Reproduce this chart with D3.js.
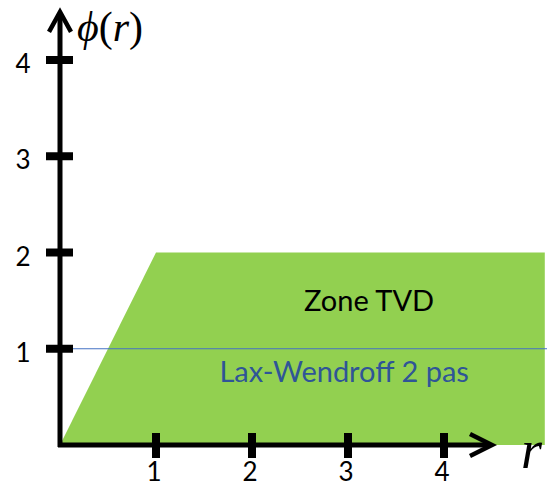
<!DOCTYPE html>
<html>
<head>
<meta charset="utf-8">
<script src="https://cdn.jsdelivr.net/npm/d3@7"></script>
<style>
  body { margin: 0; background: #fff; }
</style>
</head>
<body>
<div id="chart"></div>
<script>
// ticks on both axes
const rTicks = [1, 2, 3, 4];
const phiTicks = [1, 2, 3, 4];
const axisMax = 4.5;

// TVD zone polygon (r, phi)
const tvdR = [0, 1, 5.05, 5.05];
const tvdPhi = [0, 2, 2, 0];

// Lax-Wendroff limiter: phi = 1
const lwR = [0, 5.1];
const lwPhi = [1, 1];

// text annotations inside the zone
const noteText = ["Zone TVD", "Lax-Wendroff 2 pas"];
const noteR = [3.22, 2.96];
const notePhi = [1.5, 0.76];

const width = 547, height = 489;

const x = d3.scaleLinear([0, 4], [60, 444]);
const y = d3.scaleLinear([0, 4], [445, 60]);

const svg = d3.select("#chart")
  .append("svg")
    .attr("width", width)
    .attr("height", height)
    .attr("viewBox", [0, 0, width, height]);

// green TVD zone
svg.append("path")
    .attr("fill", "#92d050")
    .attr("d", d3.line()(tvdR.map((r, i) => [x(r), y(tvdPhi[i])])) + "Z");

// phi = 1 line
svg.append("path")
    .attr("fill", "none")
    .attr("stroke", "#4472c4")
    .attr("stroke-width", 1.2)
    .attr("d", d3.line()(lwR.map((r, i) => [x(r), y(lwPhi[i])])));

// annotations
svg.append("g")
    .attr("font-family", "Lato, 'Open Sans', sans-serif")
    .attr("font-size", 29)
    .attr("text-anchor", "middle")
  .selectAll("text")
  .data(noteText)
  .join("text")
    .attr("x", (d, i) => x(noteR[i]))
    .attr("y", (d, i) => y(notePhi[i]))
    .attr("dy", "0.35em")
    .attr("fill", (d, i) => i === 0 ? "#000" : "#2f5597")
    .text(d => d);

// axes
const axes = svg.append("g")
    .attr("stroke", "#000")
    .attr("fill", "none")
    .attr("stroke-width", 5);

axes.append("line")
    .attr("x1", x(0) - 2).attr("x2", x(axisMax) - 2)
    .attr("y1", y(0)).attr("y2", y(0));
axes.append("line")
    .attr("x1", x(0)).attr("x2", x(0))
    .attr("y1", y(0) + 2).attr("y2", y(axisMax) + 2);

// arrow heads
axes.append("path")
    .attr("stroke-width", 4.5)
    .attr("stroke-linejoin", "miter")
    .attr("d", `M${x(axisMax) - 22},${y(0) - 11}L${x(axisMax)},${y(0)}L${x(axisMax) - 22},${y(0) + 11}`);
axes.append("path")
    .attr("stroke-width", 4.5)
    .attr("stroke-linejoin", "miter")
    .attr("d", `M${x(0) - 11},${y(axisMax) + 20}L${x(0)},${y(axisMax)}L${x(0) + 11},${y(axisMax) + 20}`);

// tick marks
axes.selectAll(".rtick")
  .data(rTicks)
  .join("line")
    .attr("class", "rtick")
    .attr("stroke-width", 8)
    .attr("x1", d => x(d)).attr("x2", d => x(d))
    .attr("y1", y(0) - 12).attr("y2", y(0) + 13);
axes.selectAll(".ptick")
  .data(phiTicks)
  .join("line")
    .attr("class", "ptick")
    .attr("stroke-width", 8)
    .attr("x1", x(0) - 14).attr("x2", x(0) + 13)
    .attr("y1", d => y(d)).attr("y2", d => y(d));

// tick labels
const labels = svg.append("g")
    .attr("font-family", "Lato, 'Open Sans', sans-serif")
    .attr("font-size", 26)
    .attr("fill", "#000");

labels.selectAll(".rlab")
  .data(rTicks)
  .join("text")
    .attr("class", "rlab")
    .attr("text-anchor", "middle")
    .attr("x", d => x(d) - 2)
    .attr("y", y(0) + 36)
    .text(d => d);

labels.selectAll(".plab")
  .data(phiTicks)
  .join("text")
    .attr("class", "plab")
    .attr("text-anchor", "middle")
    .attr("x", 23)
    .attr("y", d => y(d) + 4)
    .attr("dy", "0.35em")
    .text(d => d);

// axis titles
const title = svg.append("text")
    .attr("font-family", "'Liberation Serif', 'DejaVu Serif', serif")
    .attr("font-size", 42)
    .attr("x", x(0) + 17)
    .attr("y", 41);
title.append("tspan").attr("font-style", "italic").text("\u03D5");
title.append("tspan").text("(");
title.append("tspan").attr("font-style", "italic").text("r");
title.append("tspan").text(")");

svg.append("text")
    .attr("font-family", "'Liberation Serif', 'DejaVu Serif', serif")
    .attr("font-style", "italic")
    .attr("font-size", 54)
    .attr("x", 521)
    .attr("y", 468)
    .text("r");
</script>
</body>
</html>
